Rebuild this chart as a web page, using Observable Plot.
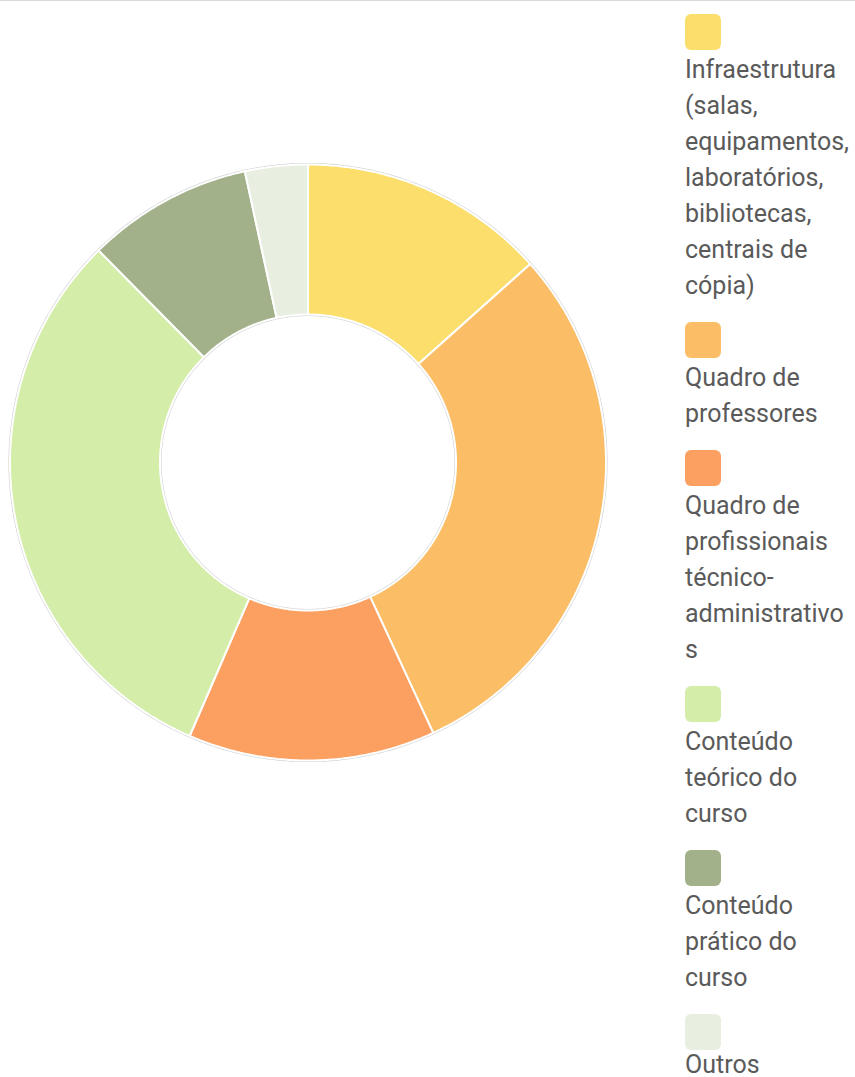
<!DOCTYPE html>
<html>
<head>
<meta charset="utf-8">
<script src="https://cdn.jsdelivr.net/npm/d3@7"></script>
<script src="https://cdn.jsdelivr.net/npm/@observablehq/plot@0.6"></script>
<style>
  html, body { margin: 0; padding: 0; background: #fff; }
  body { width: 855px; height: 1077px; position: relative; overflow: hidden; font-family: Roboto, "Noto Sans", sans-serif; }
  #topline { position: absolute; left: 0; top: 0; width: 855px; height: 1px; background: #d9d9d9; }
  #chart { position: absolute; left: 0; top: 0; }
  #legend { position: absolute; left: 685px; top: 14px; width: 170px; }
  .item { margin-bottom: 18px; }
  .sw { width: 36px; height: 36px; border-radius: 6px; margin-bottom: 2px; }
  .txt { font-size: 25px; line-height: 36px; color: #5a5a5a; white-space: nowrap; }
  .item:last-child .txt { margin-top: -5px; }
</style>
</head>
<body>
<div id="topline"></div>
<div id="chart"></div>
<div id="legend"></div>
<script>
const categories = [
  "Infraestrutura (salas, equipamentos, laboratórios, bibliotecas, centrais de cópia)",
  "Quadro de professores",
  "Quadro de profissionais técnico-administrativos",
  "Conteúdo teórico do curso",
  "Conteúdo prático do curso",
  "Outros"
];
const values = [13.4, 29.7, 13.4, 31.1, 9.0, 3.4];
const colors = ["#fbde6b", "#fbbe67", "#fca062", "#d4eea9", "#a3b18a", "#e8eee0"];
const legendLines = [
  ["Infraestrutura", "(salas,", "equipamentos,", "laboratórios,", "bibliotecas,", "centrais de", "cópia)"],
  ["Quadro de", "professores"],
  ["Quadro de", "profissionais", "técnico-", "administrativo", "s"],
  ["Conteúdo", "teórico do", "curso"],
  ["Conteúdo", "prático do", "curso"],
  ["Outros"]
];

const R = 298, r0 = 148, cx = 307.5, cy = 462;
const W = 640, H = 930;

const arcs = d3.pie().sort(null).value(d => d.v)(categories.map((c, i) => ({c, v: values[i]})));
const pts = [];
const step = Math.PI / 360;
for (const a of arcs) {
  const poly = [];
  const n = Math.max(2, Math.ceil((a.endAngle - a.startAngle) / step));
  for (let k = 0; k <= n; k++) {
    const t = a.startAngle + (a.endAngle - a.startAngle) * k / n;
    poly.push({cat: a.data.c, x: R * Math.sin(t), y: R * Math.cos(t)});
  }
  for (let k = n; k >= 0; k--) {
    const t = a.startAngle + (a.endAngle - a.startAngle) * k / n;
    poly.push({cat: a.data.c, x: r0 * Math.sin(t), y: r0 * Math.cos(t)});
  }
  poly.push({...poly[0]});
  pts.push(...poly);
}
function ring(rad, name) {
  const out = [];
  for (let k = 0; k <= 720; k++) {
    const t = 2 * Math.PI * k / 720;
    out.push({ring: name, x: rad * Math.sin(t), y: rad * Math.cos(t)});
  }
  return out;
}
const shadow = [...ring(R + 0.8, "o"), ...ring(r0 - 0.8, "i")];

const plot = Plot.plot({
  width: W, height: H,
  margin: 0,
  x: {domain: [-R, R], range: [cx - R, cx + R], axis: null},
  y: {domain: [-R, R], range: [cy + R, cy - R], axis: null},
  color: {domain: categories, range: colors},
  marks: [
    Plot.line(shadow, {x: "x", y: "y", z: "ring", stroke: "#cfcfcf", strokeWidth: 1.5, curve: "linear"}),
    Plot.line(pts, {x: "x", y: "y", z: "cat", fill: "cat", stroke: "white", strokeWidth: 2, strokeLinejoin: "round", curve: "linear"})
  ]
});
document.getElementById("chart").appendChild(plot);

const legend = document.getElementById("legend");
categories.forEach((c, i) => {
  const item = document.createElement("div");
  item.className = "item";
  const sw = document.createElement("div");
  sw.className = "sw";
  sw.style.background = colors[i];
  item.appendChild(sw);
  legendLines[i].forEach(l => {
    const t = document.createElement("div");
    t.className = "txt";
    t.textContent = l;
    item.appendChild(t);
  });
  legend.appendChild(item);
});
</script>
</body>
</html>
